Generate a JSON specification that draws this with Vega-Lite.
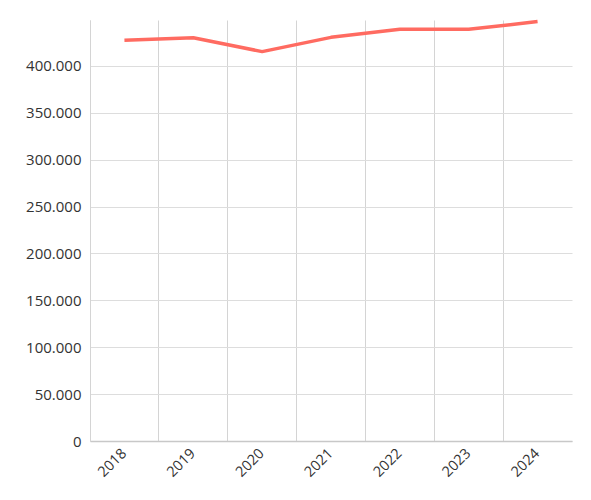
{
  "$schema": "https://vega.github.io/schema/vega-lite/v6.json",
  "width": 482,
  "height": 421,
  "padding": {"left": 0, "top": 19, "right": 19, "bottom": 5},
  "background": "white",
  "config": {
    "locale": {"number": {"decimal": ",", "thousands": ".", "grouping": [3], "currency": ["", " €"]}},
    "view": {"stroke": null},
    "font": "Open Sans"
  },
  "data": {
    "values": [
      {"year": "2018", "value": 427400},
      {"year": "2019", "value": 430000},
      {"year": "2020", "value": 415300},
      {"year": "2021", "value": 430500},
      {"year": "2022", "value": 439100},
      {"year": "2023", "value": 439100},
      {"year": "2024", "value": 447300}
    ]
  },
  "mark": {"type": "line", "color": "#ff6b61", "strokeWidth": 3.5, "strokeCap": "butt", "strokeJoin": "round"},
  "encoding": {
    "x": {
      "field": "year",
      "type": "ordinal",
      "bandPosition": 0.5,
      "scale": {"type": "band", "paddingInner": 0, "paddingOuter": 0},
      "axis": {
        "title": null,
        "bandPosition": 0,
        "labelAngle": -45,
        "labelAlign": "right",
        "labelBaseline": "middle",
        "labelPadding": 10,
        "labelFontSize": 14.5,
        "labelColor": "#333333",
        "ticks": false,
        "grid": true,
        "gridColor": "#d4d4d4",
        "gridWidth": 1,
        "domainColor": "#c8c8c8",
        "domainWidth": 1.5
      }
    },
    "y": {
      "field": "value",
      "type": "quantitative",
      "scale": {"domain": [0, 449000], "nice": false},
      "axis": {
        "title": null,
        "values": [0, 50000, 100000, 150000, 200000, 250000, 300000, 350000, 400000],
        "format": ",d",
        "labelFontSize": 15,
        "labelColor": "#333333",
        "labelPadding": 9,
        "ticks": false,
        "grid": true,
        "gridColor": "#dddddd",
        "gridWidth": 1,
        "domain": true,
        "domainColor": "#d4d4d4",
        "minExtent": 90,
        "maxExtent": 90
      }
    }
  }
}
